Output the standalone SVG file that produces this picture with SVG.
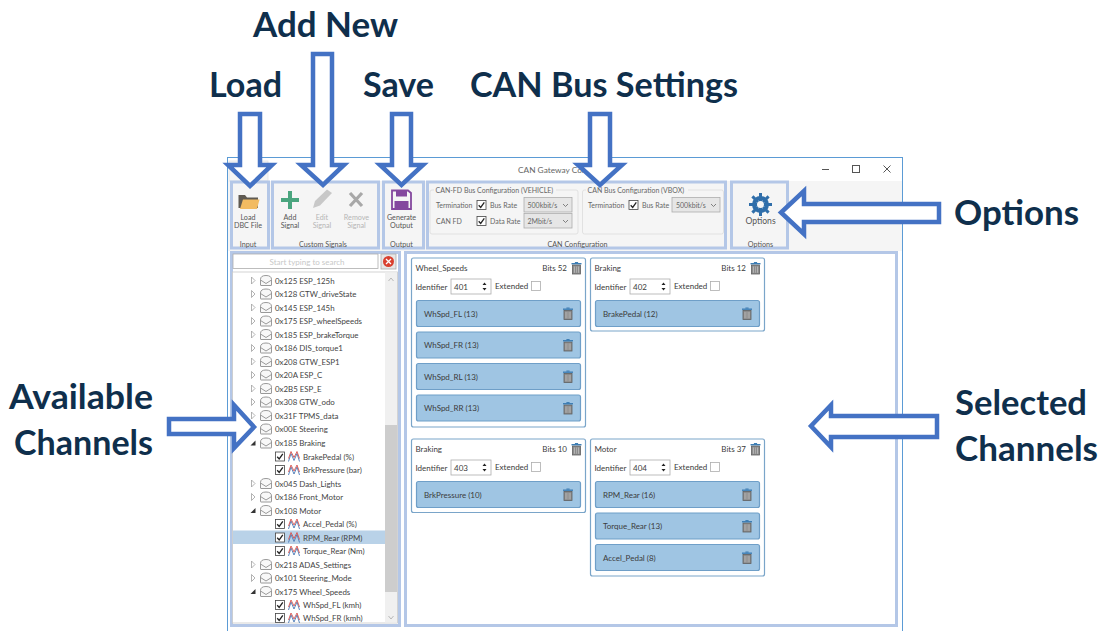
<svg xmlns="http://www.w3.org/2000/svg" xmlns:xlink="http://www.w3.org/1999/xlink" width="1100" height="631" viewBox="0 0 1100 631">
<style>
text{font-family:Lato,"Open Sans","Liberation Sans",sans-serif;font-size:8px;fill:#3c3c3c}
.h{font-family:Lato,"Liberation Sans",sans-serif;font-size:34.5px;font-weight:700;fill:#0f2f4c}
.t{font-size:7.2px;fill:#555}
.m{text-anchor:middle}
.d{fill:#b5b5b5}
.lg{font-size:7px;fill:#666}
.r{font-size:7.9px;fill:#444}
.hl{fill:none;stroke:#b4c7e7;stroke-width:3}
.arrow{fill:#fff;stroke:#4472c4;stroke-width:4.500}
.card{fill:#fff;stroke:#7aa5c9;stroke-width:1.2}
.bar{fill:#9fc5e3;stroke:#6f9fc8;stroke-width:1.2}
.box{fill:#fff;stroke:#adadad;stroke-width:.8}
.dd{fill:#e6e6e6;stroke:#adadad;stroke-width:.8}
.gb{fill:none;stroke:#dcdcdc;stroke-width:.8}
</style>
<defs>
<g id="trash"><rect x="-4" y="-3" width="8" height="9" fill="#8a8a8a" stroke="#5f5f5f" stroke-width=".8"/><rect x="-2.6" y="-1.6" width="5.2" height="6.4" fill="#b4b4b4"/><path d="M-.9-1.6V4.8M.9-1.6V4.8" stroke="#666" stroke-width=".6"/><rect x="-5" y="-5" width="10" height="1.4" fill="#3f7fb5"/><rect x="-1.6" y="-6" width="3.2" height="1.2" fill="#3f7fb5"/></g>
<g id="env"><path d="M-5.500-1Q-5.500-5 0-5 5.500-5 5.500-1V4.500Q5.500 5 5 5H-5Q-5.500 5-5.500 4.500Z" fill="#f8f8f8" stroke="#8e8e8e" stroke-width=".9"/><path d="M-5.500-.5 0 3 5.500-.5" fill="none" stroke="#8e8e8e" stroke-width=".9"/></g>
<path id="closed" d="M-1.500-3.500 2 0-1.500 3.500Z" fill="#fff" stroke="#a0a0a0" stroke-width=".8"/>
<path id="open" d="M2.500-2.500V2.500H-2.500Z" fill="#333"/>
<g id="cb"><rect x="-4.500" y="-4.500" width="9" height="9" fill="#fff" stroke="#444" stroke-width=".8"/><path d="M-2.800.2-.8 2.400 2.800-2.600" fill="none" stroke="#222" stroke-width="1.300"/></g>
<g id="sig"><use xlink:href="#cb"/><path d="M8.500 5 11-3 14 4 17-3 19.500 5" fill="none" stroke="#4a78b5" stroke-width=".9"/><path d="M8.500 2 11-5 14 1 17-5 19.500 2" fill="none" stroke="#d9534f" stroke-width=".9"/></g>
<g id="spin"><path d="M-2-1.500 0-4 2-1.500ZM-2 1.500 0 4 2 1.500Z" fill="#222"/></g>
<path id="chev" d="M-2.500-1 0 1.500 2.500-1" fill="none" stroke="#666" stroke-width=".8"/>
</defs>

<g id="window">
<rect x="227.500" y="157.500" width="675" height="480" fill="#fff" stroke="#5b9bd5"/>
<rect x="228" y="181" width="674" height="70" fill="#f5f5f5"/>
<rect x="229" y="161" width="39" height="20" fill="#f5f5f5" stroke="#e3e3e3" stroke-width=".8"/>
<text x="518" y="173" style="font-size:8.300px;fill:#666">CAN Gateway Con</text>
<path d="M822 169.500H829" stroke="#555"/>
<rect x="852.500" y="165.500" width="7" height="7" fill="none" stroke="#555"/>
<path d="M883.500 165.500 890.500 172.500M890.500 165.500 883.500 172.500" stroke="#555"/>
</g>

<g id="input-group">
<rect class="hl" x="231.500" y="182" width="37" height="66"/>
<path d="M238.500 195H245L247 197.500H258V208H238.500Z" fill="#5f5a52"/>
<path d="M240 209 243 199.500H259.500L257 209Z" fill="#f2bb62"/>
<text class="t m" x="248" y="219.500">Load</text>
<text class="t m" x="248" y="228">DBC File</text>
<text class="t m" x="248" y="246.500">Input</text>
</g>

<g id="custom-signals">
<rect class="hl" x="272.500" y="182" width="106" height="66"/>
<path d="M288 191h4v7h7v4h-7v7h-4v-7h-7v-4h7Z" fill="#4aa57f"/>
<text class="t m" x="290" y="219.500">Add</text><text class="t m" x="290" y="228">Signal</text>
<path d="M313 208 315 201 327 189.500 332 193 320 205.500Z" fill="#c8c8c8"/>
<text class="t m d" x="322" y="219.500">Edit</text><text class="t m d" x="322" y="228">Signal</text>
<path d="M350 193 362 206M362 193 350 206" stroke="#a8a8a8" stroke-width="3.200" fill="none"/>
<text class="t m d" x="356.500" y="219.500">Remove</text><text class="t m d" x="356.500" y="228">Signal</text>
<text class="t m" x="323" y="246.500">Custom Signals</text>
</g>

<g id="output-group">
<rect class="hl" x="383.500" y="182" width="40" height="66"/>
<path d="M392 190.500H408L411 193V209H392Z" fill="none" stroke="#84489e" stroke-width="1.800"/>
<rect x="396" y="190.500" width="11" height="6" fill="#84489e"/>
<rect x="394.500" y="201" width="14" height="7.500" fill="#84489e"/>
<text class="t m" x="401.500" y="219.500">Generate</text><text class="t m" x="401.500" y="228">Output</text>
<text class="t m" x="401.500" y="246.500">Output</text>
</g>

<g id="can-configuration">
<rect class="hl" x="427.500" y="182" width="298" height="66"/>
<rect class="gb" x="430" y="190" width="148" height="44" rx="2"/>
<rect x="434" y="186" width="122" height="8" fill="#f5f5f5"/>
<text class="lg" x="435.500" y="192.500">CAN-FD Bus Configuration (VEHICLE)</text>
<text class="lg" x="436" y="207.500">Termination</text>
<use xlink:href="#cb" x="481.500" y="205"/>
<text class="lg" x="490" y="207.500">Bus Rate</text>
<rect class="dd" x="524" y="197.500" width="48" height="14.500"/>
<text class="lg" x="527.500" y="207.500">500kbit/s</text>
<use xlink:href="#chev" x="565.500" y="205"/>
<text class="lg" x="436" y="223.500">CAN FD</text>
<use xlink:href="#cb" x="481.500" y="221"/>
<text class="lg" x="490" y="223.500">Data Rate</text>
<rect class="dd" x="524" y="213.500" width="48" height="14.500"/>
<text class="lg" x="527.500" y="223.500">2Mbit/s</text>
<use xlink:href="#chev" x="565.500" y="221"/>
<rect class="gb" x="582.500" y="190" width="141" height="44" rx="2"/>
<rect x="586" y="186" width="102" height="8" fill="#f5f5f5"/>
<text class="lg" x="587.500" y="192.500">CAN Bus Configuration (VBOX)</text>
<text class="lg" x="588" y="207.500">Termination</text>
<use xlink:href="#cb" x="633.500" y="205"/>
<text class="lg" x="642" y="207.500">Bus Rate</text>
<rect class="dd" x="672" y="197.500" width="48" height="14.500"/>
<text class="lg" x="676" y="207.500">500kbit/s</text>
<use xlink:href="#chev" x="713.500" y="205"/>
<text class="t m" x="577.500" y="246.500">CAN Configuration</text>
</g>

<g id="options-group">
<rect class="hl" x="731.500" y="182" width="56" height="66"/>
<circle cx="760.500" cy="204.500" r="6.500" fill="none" stroke="#2f6eaa" stroke-width="4"/>
<path d="M760.500 193V216M749 204.500H772M752.400 196.400 768.600 212.600M768.600 196.400 752.400 212.600" stroke="#2f6eaa" stroke-width="3"/>
<circle cx="760.500" cy="204.500" r="3.500" fill="#f5f5f5"/>
<text class="m" x="760.500" y="224" style="font-size:8.600px;fill:#555">Options</text>
<text class="t m" x="760.500" y="246.500">Options</text>
</g>

<g id="available-channels">
<rect class="hl" x="231.500" y="252.500" width="168" height="373"/>
<rect class="box" x="233" y="254" width="145" height="14.500"/>
<text class="m" x="307" y="264.500" style="fill:#c8c8c8">Start typing to search</text>
<rect x="381" y="254" width="15" height="15" fill="#e6e6e6" stroke="#adadad" stroke-width=".8"/>
<circle cx="388.500" cy="261.500" r="5.500" fill="#d9402f"/>
<path d="M386 259 391 264M391 259 386 264" stroke="#fff" stroke-width="1.300"/>
<rect x="232.500" y="272" width="165" height="351" fill="#fff" stroke="#c9c9c9" stroke-width=".8"/>
<rect x="385" y="272.500" width="12" height="350" fill="#f0f0f0"/>
<rect x="385" y="425" width="12" height="167" fill="#cdcdcd"/>
<path d="M388.500 281 391 278 393.500 281M388.500 616 391 619 393.500 616" fill="none" stroke="#aaa" stroke-width=".8"/>
<rect x="233" y="530.500" width="152" height="13.500" fill="#b9d2e8"/>
<use xlink:href="#closed" x="253" y="280.500"/><use xlink:href="#env" x="266" y="280.500"/><text class="r" x="275" y="283.500">0x125 ESP_125h</text>
<use xlink:href="#closed" x="253" y="294"/><use xlink:href="#env" x="266" y="294"/><text class="r" x="275" y="297">0x128 GTW_driveState</text>
<use xlink:href="#closed" x="253" y="307.500"/><use xlink:href="#env" x="266" y="307.500"/><text class="r" x="275" y="310.500">0x145 ESP_145h</text>
<use xlink:href="#closed" x="253" y="321"/><use xlink:href="#env" x="266" y="321"/><text class="r" x="275" y="324">0x175 ESP_wheelSpeeds</text>
<use xlink:href="#closed" x="253" y="334.500"/><use xlink:href="#env" x="266" y="334.500"/><text class="r" x="275" y="337.500">0x185 ESP_brakeTorque</text>
<use xlink:href="#closed" x="253" y="348"/><use xlink:href="#env" x="266" y="348"/><text class="r" x="275" y="351">0x186 DIS_torque1</text>
<use xlink:href="#closed" x="253" y="361.500"/><use xlink:href="#env" x="266" y="361.500"/><text class="r" x="275" y="364.500">0x208 GTW_ESP1</text>
<use xlink:href="#closed" x="253" y="375"/><use xlink:href="#env" x="266" y="375"/><text class="r" x="275" y="378">0x20A ESP_C</text>
<use xlink:href="#closed" x="253" y="388.500"/><use xlink:href="#env" x="266" y="388.500"/><text class="r" x="275" y="391.500">0x2B5 ESP_E</text>
<use xlink:href="#closed" x="253" y="402"/><use xlink:href="#env" x="266" y="402"/><text class="r" x="275" y="405">0x308 GTW_odo</text>
<use xlink:href="#closed" x="253" y="415.500"/><use xlink:href="#env" x="266" y="415.500"/><text class="r" x="275" y="418.500">0x31F TPMS_data</text>
<use xlink:href="#env" x="266" y="429"/><text class="r" x="275" y="432">0x00E Steering</text>
<use xlink:href="#open" x="253" y="443"/><use xlink:href="#env" x="266" y="443"/><text class="r" x="275" y="446">0x185 Braking</text>
<use xlink:href="#sig" x="280" y="456.500"/><text class="r" x="303" y="459.500">BrakePedal (%)</text>
<use xlink:href="#sig" x="280" y="470"/><text class="r" x="303" y="473">BrkPressure (bar)</text>
<use xlink:href="#closed" x="253" y="483.500"/><use xlink:href="#env" x="266" y="483.500"/><text class="r" x="275" y="486.500">0x045 Dash_Lights</text>
<use xlink:href="#closed" x="253" y="497"/><use xlink:href="#env" x="266" y="497"/><text class="r" x="275" y="500">0x186 Front_Motor</text>
<use xlink:href="#open" x="253" y="510.500"/><use xlink:href="#env" x="266" y="510.500"/><text class="r" x="275" y="513.500">0x108 Motor</text>
<use xlink:href="#sig" x="280" y="524"/><text class="r" x="303" y="527">Accel_Pedal (%)</text>
<use xlink:href="#sig" x="280" y="537.500"/><text class="r" x="303" y="540.500">RPM_Rear (RPM)</text>
<use xlink:href="#sig" x="280" y="551"/><text class="r" x="303" y="554">Torque_Rear (Nm)</text>
<use xlink:href="#closed" x="253" y="564.500"/><use xlink:href="#env" x="266" y="564.500"/><text class="r" x="275" y="567.500">0x218 ADAS_Settings</text>
<use xlink:href="#closed" x="253" y="578"/><use xlink:href="#env" x="266" y="578"/><text class="r" x="275" y="581">0x101 Steering_Mode</text>
<use xlink:href="#open" x="253" y="591.500"/><use xlink:href="#env" x="266" y="591.500"/><text class="r" x="275" y="594.500">0x175 Wheel_Speeds</text>
<use xlink:href="#sig" x="280" y="605"/><text class="r" x="303" y="608">WhSpd_FL (kmh)</text>
<use xlink:href="#sig" x="280" y="618"/><text class="r" x="303" y="621">WhSpd_FR (kmh)</text>
</g>

<g id="selected-channels">
<rect class="hl" x="405.500" y="252.500" width="491" height="373"/>
</g>

<g id="card-wheel-speeds">
<rect class="card" x="411.500" y="258" width="174" height="169" rx="2"/>
<text x="415.500" y="271">Wheel_Speeds</text><text x="567" y="271" text-anchor="end">Bits 52</text><use xlink:href="#trash" x="576.500" y="268"/>
<text x="415.500" y="290">Identifier</text><rect class="box" x="451" y="279" width="40" height="15"/><text x="454" y="290">401</text><use xlink:href="#spin" x="484.500" y="286.500"/>
<text x="495" y="289">Extended</text><rect class="box" x="531.500" y="281.500" width="9" height="9"/>
<rect class="bar" x="416.500" y="300.500" width="164" height="26" rx="2"/><text x="424" y="316.500">WhSpd_FL (13)</text><use xlink:href="#trash" x="568" y="313.500"/>
<rect class="bar" x="416.500" y="332" width="164" height="26" rx="2"/><text x="424" y="348">WhSpd_FR (13)</text><use xlink:href="#trash" x="568" y="345"/>
<rect class="bar" x="416.500" y="363.500" width="164" height="26" rx="2"/><text x="424" y="379.500">WhSpd_RL (13)</text><use xlink:href="#trash" x="568" y="376.500"/>
<rect class="bar" x="416.500" y="395" width="164" height="26" rx="2"/><text x="424" y="411">WhSpd_RR (13)</text><use xlink:href="#trash" x="568" y="408"/>
</g>

<g id="card-braking-402">
<rect class="card" x="590.500" y="258" width="174" height="73" rx="2"/>
<text x="594.500" y="271">Braking</text><text x="746" y="271" text-anchor="end">Bits 12</text><use xlink:href="#trash" x="755.500" y="268"/>
<text x="594.500" y="290">Identifier</text><rect class="box" x="630" y="279" width="40" height="15"/><text x="633" y="290">402</text><use xlink:href="#spin" x="663.500" y="286.500"/>
<text x="674" y="289">Extended</text><rect class="box" x="710.500" y="281.500" width="9" height="9"/>
<rect class="bar" x="595.500" y="300.500" width="164" height="26" rx="2"/><text x="603" y="316.500">BrakePedal (12)</text><use xlink:href="#trash" x="747" y="313.500"/>
</g>

<g id="card-braking-403">
<rect class="card" x="411.500" y="439" width="174" height="73.500" rx="2"/>
<text x="415.500" y="452">Braking</text><text x="567" y="452" text-anchor="end">Bits 10</text><use xlink:href="#trash" x="576.500" y="449"/>
<text x="415.500" y="471">Identifier</text><rect class="box" x="451" y="460" width="40" height="15"/><text x="454" y="471">403</text><use xlink:href="#spin" x="484.500" y="467.500"/>
<text x="495" y="470">Extended</text><rect class="box" x="531.500" y="462.500" width="9" height="9"/>
<rect class="bar" x="416.500" y="481.500" width="164" height="26" rx="2"/><text x="424" y="497.500">BrkPressure (10)</text><use xlink:href="#trash" x="568" y="494.500"/>
</g>

<g id="card-motor">
<rect class="card" x="590.500" y="439" width="174" height="137" rx="2"/>
<text x="594.500" y="452">Motor</text><text x="746" y="452" text-anchor="end">Bits 37</text><use xlink:href="#trash" x="755.500" y="449"/>
<text x="594.500" y="471">Identifier</text><rect class="box" x="630" y="460" width="40" height="15"/><text x="633" y="471">404</text><use xlink:href="#spin" x="663.500" y="467.500"/>
<text x="674" y="470">Extended</text><rect class="box" x="710.500" y="462.500" width="9" height="9"/>
<rect class="bar" x="595.500" y="481.500" width="164" height="26" rx="2"/><text x="603" y="497.500">RPM_Rear (16)</text><use xlink:href="#trash" x="747" y="494.500"/>
<rect class="bar" x="595.500" y="513" width="164" height="26" rx="2"/><text x="603" y="529">Torque_Rear (13)</text><use xlink:href="#trash" x="747" y="526"/>
<rect class="bar" x="595.500" y="544.500" width="164" height="26" rx="2"/><text x="603" y="560.500">Accel_Pedal (8)</text><use xlink:href="#trash" x="747" y="557.500"/>
</g>

<g id="connectors">
<path class="arrow" d="M240 114H260V165H272L250 186 228 165H240Z"/>
<path class="arrow" d="M313 54H332V165H344L323 185 301 165H313Z"/>
<path class="arrow" d="M392 114H411V165H423L401.500 185 380 165H392Z"/>
<path class="arrow" d="M590 114H610V165H622L600 185 578 165H590Z"/>
<path class="arrow" d="M939 204H804V191L781 212.500 804 234V222H939Z"/>
<path class="arrow" d="M169 419H234V405L254 427 234 448V434H169Z"/>
<path class="arrow" d="M937 416H831V405L811 426 831 447V437H937Z"/>
</g>

<g id="callouts">
<text class="h" x="209" y="97" textLength="73" lengthAdjust="spacingAndGlyphs">Load</text>
<text class="h" x="253" y="37" textLength="145" lengthAdjust="spacingAndGlyphs">Add New</text>
<text class="h" x="363" y="97" textLength="71" lengthAdjust="spacingAndGlyphs">Save</text>
<text class="h" x="470" y="97" textLength="268" lengthAdjust="spacingAndGlyphs">CAN Bus Settings</text>
<text class="h" x="954" y="225" textLength="125" lengthAdjust="spacingAndGlyphs">Options</text>
<text class="h" x="9" y="409" textLength="144" lengthAdjust="spacingAndGlyphs">Available</text>
<text class="h" x="14" y="455" textLength="139" lengthAdjust="spacingAndGlyphs">Channels</text>
<text class="h" x="955" y="415" textLength="132" lengthAdjust="spacingAndGlyphs">Selected</text>
<text class="h" x="955" y="461" textLength="143" lengthAdjust="spacingAndGlyphs">Channels</text>
</g>
</svg>
